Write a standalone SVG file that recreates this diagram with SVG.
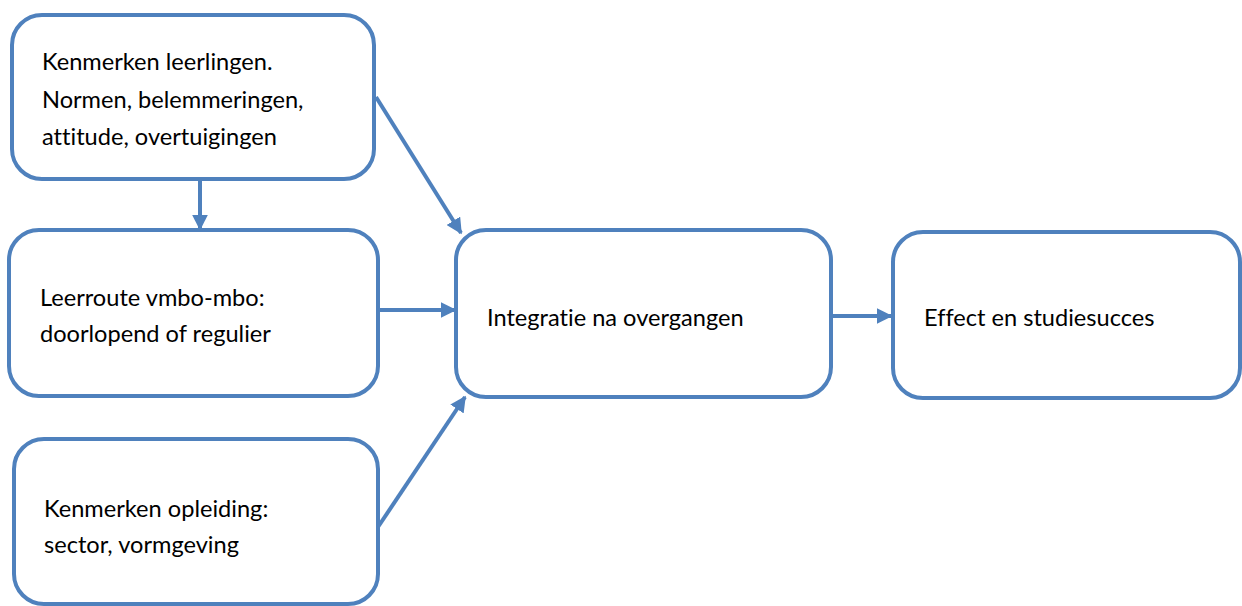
<svg xmlns="http://www.w3.org/2000/svg" width="1242" height="606" viewBox="0 0 1242 606">
<style>
.box{fill:#fff;stroke:#4F81BD;stroke-width:4}
.t{font-family:Lato,"Liberation Sans",sans-serif;font-size:23.6px;fill:#000;font-variant-ligatures:none}
.c{stroke:#4F81BD;stroke-width:4;fill:none}
</style>
<defs>
<marker id="ah" viewBox="0 0 10 10" refX="9" refY="5" markerWidth="4" markerHeight="4" orient="auto" markerUnits="strokeWidth">
<path d="M0,0 L10,5 L0,10 z" fill="#4F81BD"/>
</marker>
</defs>
<rect width="1242" height="606" fill="#fff"/>
<g id="connectors">
<line class="c" x1="200" y1="180" x2="200" y2="229" marker-end="url(#ah)"/>
<line class="c" x1="376" y1="97" x2="461" y2="233" marker-end="url(#ah)"/>
<line class="c" x1="380" y1="310" x2="455" y2="310" marker-end="url(#ah)"/>
<line class="c" x1="378" y1="527" x2="465" y2="397" marker-end="url(#ah)"/>
<line class="c" x1="833" y1="316" x2="891" y2="316" marker-end="url(#ah)"/>
</g>
<g id="n1">
<rect class="box" x="12" y="15" width="362" height="164" rx="30"/>
<text class="t" x="42" y="70">Kenmerken leerlingen.</text>
<text class="t" x="42" y="108">Normen, belemmeringen,</text>
<text class="t" x="42" y="145">attitude, overtuigingen</text>
</g>
<g id="n2">
<rect class="box" x="9" y="230" width="369" height="166" rx="30"/>
<text class="t" x="40" y="306">Leerroute vmbo-mbo:</text>
<text class="t" x="40" y="342">doorlopend of regulier</text>
</g>
<g id="n3">
<rect class="box" x="14" y="439" width="364" height="165" rx="30"/>
<text class="t" x="44" y="517">Kenmerken opleiding:</text>
<text class="t" x="44" y="553">sector, vormgeving</text>
</g>
<g id="n4">
<rect class="box" x="456" y="230" width="375" height="167" rx="30"/>
<text class="t" x="487" y="326">Integratie na overgangen</text>
</g>
<g id="n5">
<rect class="box" x="893" y="232" width="347" height="166" rx="30"/>
<text class="t" x="924" y="326">Effect en studiesucces</text>
</g>
</svg>
